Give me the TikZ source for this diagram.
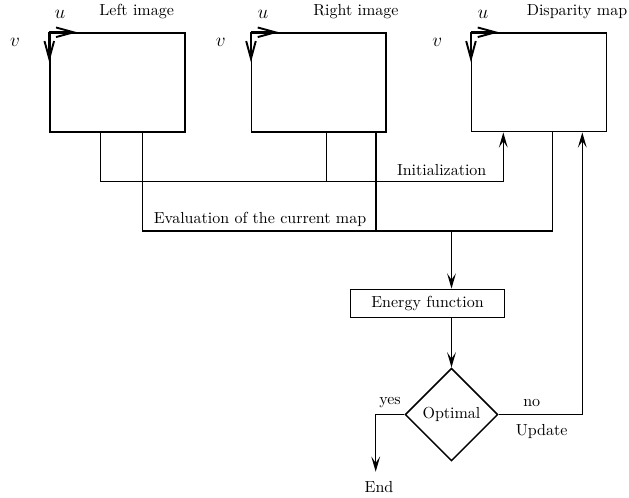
\documentclass[tikz,border=0pt]{standalone}
\usetikzlibrary{arrows.meta,shapes.geometric,fit}
\begin{document}
\begin{tikzpicture}[x=0.625pt,y=-0.625pt,
  line width=0.9pt,
  box/.style={draw,inner sep=0pt},
  conn/.style={line width=0.9pt},
  arr/.style={-{Stealth[length=9.5pt,width=5.5pt,inset=4pt]}},
  axis/.style={line width=1.2pt,-{Straight Barb[length=11pt,width=6pt]}},
  lbl/.style={font=\fontsize{10}{12}\selectfont,inner sep=0pt},
  mlbl/.style={font=\fontsize{13}{15}\selectfont,inner sep=0pt}]
\useasboundingbox (0,0) rectangle (629,498);
% boxes
\node[box,fit={(50,33) (185,132)}] (L) {};
\node[box,fit={(251.7,33) (386,132)}] (M) {};
\node[box,fit={(471.7,33) (606.7,131.7)}] (R) {};
\node[draw,inner sep=0pt,minimum width=96pt,minimum height=17.5pt,lbl] (E) at (427.5,303.3) {Energy function};
\node[draw,diamond,aspect=1,inner sep=0pt,minimum size=57.9pt,lbl] (D) at (451.5,414.5) {Optimal};
% titles
\node[lbl] (tL) at (136.7,12) {Left image};
\node[lbl] (tM) at (356,12) {Right image};
\node[lbl] (tR) at (577,12) {Disparity map};
% axes
\foreach \b/\ux/\vx in {L/60/15, M/263/220.7, R/483/437.3}{
  \draw[axis] (\b.north west) -- ++(28,0);
  \draw[axis] (\b.north west) -- ++(0,30);
  \node[mlbl] (u\b) at (\ux,14) {$u$};
  \node[mlbl] (v\b) at (\vx,42) {$v$};
}
% junction coordinates
\coordinate (i1) at (100.7,181.7);
\coordinate (i2) at (326.7,181.7);
\coordinate (i3) at (503.3,181.7);
\coordinate (e1) at (142.3,231);
\coordinate (e2) at (376,231);
\coordinate (e3) at (552.7,231);
\coordinate (e4) at (451.5,231);
\coordinate (y1) at (375.7,414.5);
\coordinate (y2) at (375.7,471.7);
\coordinate (n1) at (582.3,414.5);
% Initialization
\draw[conn,arr] (L.south -| i1) -- (i1) -- (i3) -- (R.south -| i3);
\draw[conn] (M.south -| i2) -- (i2);
\node[lbl] (tInit) at (441.7,170) {Initialization};
% Evaluation
\draw[conn] (L.south -| e1) -- (e1) -- (e3) -- (R.south -| e3);
\draw[conn] (M.south -| e2) -- (e2);
\node[lbl] (tEval) at (260,219) {Evaluation of the current map};
\draw[conn,arr] (e4) -- (E.north -| e4);
\draw[conn,arr] (E.south -| e4) -- (D.north);
% yes / no
\draw[conn,arr] (D.west) -- (y1) -- (y2);
\node[lbl] (tEnd) at (379,487) {End};
\node[lbl] (tYes) at (390,403) {yes};
\draw[conn,arr] (D.east) -- (n1) -- (R.south -| n1);
\node[lbl] (tNo) at (531.7,403) {no};
\node[lbl] (tUpd) at (541.7,431) {Update};
\end{tikzpicture}
\end{document}
